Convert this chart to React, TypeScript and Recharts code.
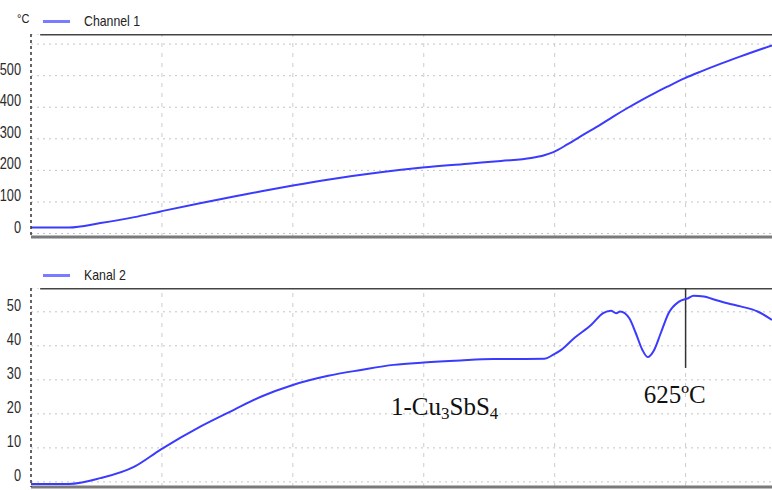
import {
  LineChart,
  Line,
  XAxis,
  YAxis,
  CartesianGrid,
  ReferenceLine,
  ReferenceDot,
} from "recharts";

// channel 1 (temperature, °C)
const ch1Time = [0, 2.9, 5.3, 7.9, 9.9, 13.0, 15.5, 17.6, 20.0, 22.9, 26.7, 29.9, 33.6, 35.9, 38.2, 39.2, 39.9, 41.0, 42.2, 43.5, 44.5, 45.5, 46.6, 47.6, 48.6, 50.0, 51.1, 52.7, 54.2, 56.6];
const ch1Temp = [19, 19, 33, 52, 70, 97, 117, 134, 152, 172, 194, 209, 222, 230, 239, 248, 258, 283, 313, 345, 371, 396, 422, 444, 465, 493, 512, 538, 561, 596];
const ch1Ticks = [0, 100, 200, 300, 400, 500, 600];

// kanal 2 (DTA signal)
const ch2Time = [0, 2.9, 5.3, 7.9, 9.9, 13.0, 15.5, 17.6, 20.0, 22.7, 25.2, 27.7, 30.0, 32.8, 35.3, 39.2, 39.9, 40.5, 41.5, 42.8, 43.7, 44.3, 44.7, 45.0, 45.7, 46.2, 46.7, 47.1, 47.6, 48.1, 48.7, 49.5, 50.2, 50.6, 51.4, 52.1, 53.2, 54.2, 55.5, 56.6];
const ch2Signal = [-0.6, -0.6, 1.1, 4.5, 9.5, 16.4, 21.2, 25.1, 28.5, 31.2, 32.9, 34.4, 35.1, 35.7, 36.1, 36.2, 37.4, 38.8, 42.3, 46.2, 49.6, 50.3, 49.6, 50.1, 48.1, 43.7, 38.8, 36.7, 38.8, 43.7, 49.6, 53.0, 54.0, 54.7, 54.5, 53.7, 52.5, 51.6, 50.1, 47.6];
const ch2Ticks = [0, 10, 20, 30, 40, 50];

const gridX = [10, 20, 30, 40, 50];
const peakTime = 50;

const ch1Data = ch1Time.map((t, i) => ({ t, v: ch1Temp[i] }));
const ch2Data = ch2Time.map((t, i) => ({ t, v: ch2Signal[i] }));

const sans = "'Liberation Sans', Arial, sans-serif";
const serif = "'Liberation Serif', 'Times New Roman', serif";
const lineColor = "#3b3bff";

const makeTick = (hide?: number) => (props: any) => {
  const { x, y, payload } = props;
  if (payload.value === hide) return <g />;
  return (
    <text
      transform={`translate(${x - 2},${y - 1}) scale(0.75,1)`}
      textAnchor="end"
      fontSize={17}
      fill="#2a2a2a"
      fontFamily={sans}
    >
      {payload.value}
    </text>
  );
};

const annot = (parts: { s: string; sub?: boolean }[]) => (props: any) => {
  const vb = props.viewBox || {};
  const x = vb.cx ?? vb.x ?? 0;
  const y = vb.cy ?? vb.y ?? 0;
  let shifted = false;
  return (
    <text x={x} y={y} fontSize={25} fill="#111" fontFamily={serif}>
      {parts.map((p, i) => {
        if (p.sub) {
          shifted = true;
          return (
            <tspan key={i} fontSize={17} dy={4}>{p.s}</tspan>
          );
        }
        const dy = shifted ? -4 : 0;
        shifted = false;
        return (
          <tspan key={i} dy={dy}>{p.s}</tspan>
        );
      })}
    </text>
  );
};

function Panel({ data, domain, ticks, hideTick, height, children }: any) {
  return (
    <LineChart width={772} height={height} data={data} margin={{ top: 0, right: 0, left: 0, bottom: 0 }}>
      <CartesianGrid vertical={false} stroke="#c4c4c4" strokeDasharray="2 4" />
      {gridX.map((g) => (
        <ReferenceLine key={g} x={g} stroke="#cccccc" strokeDasharray="4 6" />
      ))}
      <XAxis
        dataKey="t"
        type="number"
        domain={[0, 56.6]}
        ticks={gridX}
        tick={false}
        tickLine={false}
        height={3}
        axisLine={{ stroke: "#7a7a7a", strokeWidth: 3 }}
      />
      <YAxis
        type="number"
        domain={domain}
        ticks={ticks}
        width={31}
        tickLine={false}
        axisLine={{ stroke: "#333", strokeDasharray: "3 3", strokeWidth: 1.5 }}
        tick={makeTick(hideTick)}
        interval={0}
        allowDataOverflow
      />
      <ReferenceLine
        segment={[{ x: 0.7, y: domain[1] }, { x: 56.6, y: domain[1] }]}
        stroke="#444"
        strokeWidth={3}
      />
      {children}
      <Line
        type="monotone"
        dataKey="v"
        stroke={lineColor}
        strokeWidth={2}
        dot={false}
        isAnimationActive={false}
      />
    </LineChart>
  );
}

function LegendRow({ top, label, unit }: any) {
  return (
    <div style={{ position: "absolute", top, left: 0, height: 20, width: 300, fontFamily: sans, fontSize: 15, color: "#222" }}>
      {unit && (
        <span style={{ position: "absolute", left: 17, top: 0, fontSize: 13, transform: "scaleX(0.85)", transformOrigin: "left" }}>
          {unit}
        </span>
      )}
      <span style={{ position: "absolute", left: 43, top: 9, width: 27, height: 3, background: "#7b7bff" }} />
      <span style={{ position: "absolute", left: 84, top: 1, transform: "scaleX(0.82)", transformOrigin: "left", whiteSpace: "nowrap" }}>
        {label}
      </span>
    </div>
  );
}

export default function App() {
  return (
    <div style={{ position: "absolute", left: 0, top: 0, width: 772, height: 490, background: "#fff", overflow: "hidden" }}>
      <div style={{ position: "absolute", left: 0, top: 34 }}>
        <Panel data={ch1Data} domain={[-11, 632]} ticks={ch1Ticks} hideTick={600} height={206} />
      </div>
      <div style={{ position: "absolute", left: 0, top: 288 }}>
        <Panel data={ch2Data} domain={[-1.5, 57]} ticks={ch2Ticks} height={202}>
          <ReferenceLine
            segment={[{ x: peakTime, y: 57 }, { x: peakTime, y: 33.5 }]}
            stroke="#333"
            strokeWidth={1.5}
          />
          <ReferenceDot
            x={27.5}
            y={19.7}
            r={0}
            fill="none"
            stroke="none"
            label={annot([{ s: "1-Cu" }, { s: "3", sub: true }, { s: "SbS" }, { s: "4", sub: true }])}
          />
          <ReferenceDot
            x={46.8}
            y={23.2}
            r={0}
            fill="none"
            stroke="none"
            label={annot([{ s: "625ºC" }])}
          />
        </Panel>
      </div>
      <LegendRow top={11} label="Channel 1" unit="°C" />
      <LegendRow top={265} label="Kanal 2" />
    </div>
  );
}
